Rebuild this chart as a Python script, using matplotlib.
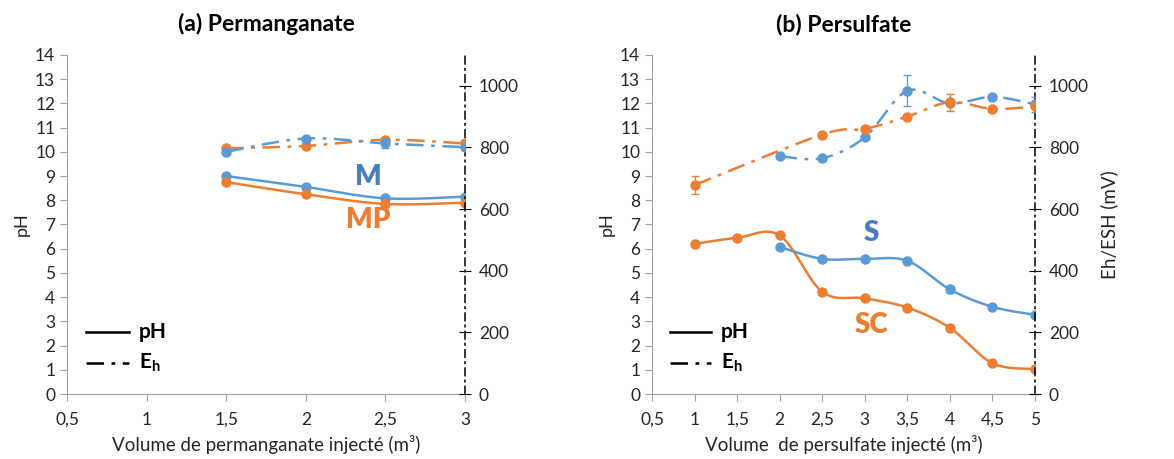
import numpy as np
import matplotlib.pyplot as plt

plt.rcParams['font.family'] = ['Lato', 'DejaVu Sans']
plt.rcParams['mathtext.fontset'] = 'custom'
plt.rcParams['mathtext.bf'] = 'Lato:bold'

BLUE = '#5B9BD5'
ORANGE = '#ED7D31'
SPINE = '#A0A0A0'
TXT = '#262626'

# (a) Permanganate
x_perm = [1.5, 2, 2.5, 3]
ph_M = [9.0, 8.55, 8.08, 8.15]
ph_MP = [8.75, 8.25, 7.85, 7.9]
eh_M = [786, 829, 813, 801]
eh_M_err = [0, 0, 15, 0]
eh_MP = [797, 805, 825, 813]

# (b) Persulfate
x_S = [2, 2.5, 3, 3.5, 4, 4.5, 5]
ph_S = [6.07, 5.58, 5.58, 5.5, 4.32, 3.6, 3.27]
ph_S_err = [0, 0, 0, 0, 0.15, 0, 0]
eh_S = [772, 765, 833, 984, 943, 964, 940]
eh_S_err = [0, 8, 0, 50, 0, 0, 25]

x_SC = [1, 1.5, 2, 2.5, 3, 3.5, 4, 4.5, 5]
ph_SC = [6.2, 6.45, 6.55, 4.22, 3.95, 3.57, 2.73, 1.27, 1.03]
x_SC_eh = [1, 2.5, 3, 3.5, 4, 4.5, 5]
eh_SC = [678, 842, 860, 900, 947, 925, 933]
eh_SC_err = [28, 0, 8, 0, 28, 0, 0]

dashdot = (0, (7, 3, 1.5, 3))


def smooth(x, y, n=30):
    # courbe lissée type Excel (Catmull-Rom)
    p = np.column_stack([x, y]).astype(float)
    out = [p[0]]
    for i in range(len(p) - 1):
        p0 = p[i - 1] if i > 0 else p[i]
        p1, p2 = p[i], p[i + 1]
        p3 = p[i + 2] if i + 2 < len(p) else p[i + 1]
        c1 = p1 + (p2 - p0) / 6
        c2 = p2 - (p3 - p1) / 6
        t = np.linspace(0, 1, n)[1:, None]
        seg = (1 - t) ** 3 * p1 + 3 * (1 - t) ** 2 * t * c1 + 3 * (1 - t) * t ** 2 * c2 + t ** 3 * p2
        out.extend(seg)
    out = np.array(out)
    return out[:, 0], out[:, 1]


def draw(ax, x, y, color, err=None, ls='-'):
    sx, sy = smooth(x, y)
    ax.plot(sx, sy, color=color, lw=1.8, linestyle=ls, zorder=3)
    ax.plot(x, y, 'o', color=color, ms=6.5, zorder=4)
    if err is not None:
        ax.errorbar(x, y, yerr=err, fmt='none', ecolor=color, elinewidth=0.9, capsize=3, zorder=4)


def setup(ax, ax2, xmax, xlabel, title, right_label):
    ax.set_xlim(0.5, xmax)
    ax.set_ylim(0, 14)
    ax.set_yticks(range(0, 15))
    xt = np.arange(0.5, xmax + 0.01, 0.5)
    ax.set_xticks(xt)
    ax.set_xticklabels([('%g' % v).replace('.', ',') for v in xt])
    ax.tick_params(axis='both', colors=SPINE, labelcolor=TXT, labelsize=12.5, length=5)
    ax.tick_params(axis='x', pad=8)
    for s in ['top', 'right']:
        ax.spines[s].set_visible(False)
    for s in ['left', 'bottom']:
        ax.spines[s].set_color(SPINE)
    ax.set_ylabel('pH', fontsize=13, color=TXT, labelpad=4)
    ax.set_xlabel(xlabel, fontsize=13.5, color=TXT, labelpad=5)
    ax.set_title(title, fontsize=16.5, fontweight='bold', color='black', pad=17)

    ax2.set_ylim(0, 1100)
    ax2.set_yticks(range(0, 1001, 200))
    ax2.tick_params(axis='y', direction='inout', length=8, colors='black', labelcolor=TXT, labelsize=12.5, pad=6)
    for s in ['top', 'left', 'bottom']:
        ax2.spines[s].set_visible(False)
    ax2.spines['right'].set_linestyle((0, (5, 3, 1, 3)))
    ax2.spines['right'].set_color('black')
    ax2.spines['right'].set_linewidth(1.1)
    if right_label:
        ax2.set_ylabel(right_label, fontsize=13.5, color=TXT, labelpad=8)

    # légende manuelle
    ax.plot([0.047, 0.155], [0.183, 0.183], transform=ax.transAxes, color='black', lw=1.8)
    ax.plot([0.047, 0.155], [0.091, 0.091], transform=ax.transAxes, color='black', lw=1.8, linestyle=dashdot)
    ax.text(0.18, 0.183, 'pH', transform=ax.transAxes, fontsize=15, fontweight='bold', va='center')
    ax.text(0.18, 0.091, r'E$_\mathbf{h}$', transform=ax.transAxes, fontsize=15, fontweight='bold', va='center')


fig = plt.figure(figsize=(11.74, 4.59), dpi=100)

ax_a = fig.add_axes([0.0571, 0.1416, 0.339, 0.7386])
ax_a2 = ax_a.twinx()
draw(ax_a, x_perm, ph_M, BLUE)
draw(ax_a, x_perm, ph_MP, ORANGE)
draw(ax_a2, x_perm, eh_MP, ORANGE, ls=dashdot)
draw(ax_a2, x_perm, eh_M, BLUE, eh_M_err, ls=dashdot)
ax_a.text(2.39, 8.98, 'M', color='#4A7EBB', fontsize=20, fontweight='heavy', ha='center', va='center')
ax_a.text(2.39, 7.19, 'MP', color=ORANGE, fontsize=20, fontweight='heavy', ha='center', va='center')
setup(ax_a, ax_a2, 3, 'Volume de permanganate injecté (m³)', '(a) Permanganate', None)

ax_b = fig.add_axes([0.5554, 0.1416, 0.3262, 0.7386])
ax_b2 = ax_b.twinx()
draw(ax_b, x_SC, ph_SC, ORANGE)
draw(ax_b, x_S, ph_S, BLUE, ph_S_err)
draw(ax_b2, x_S, eh_S, BLUE, eh_S_err, ls=dashdot)
draw(ax_b2, x_SC_eh, eh_SC, ORANGE, eh_SC_err, ls=dashdot)
ax_b.text(3.08, 6.64, 'S', color='#4A7EBB', fontsize=20, fontweight='heavy', ha='center', va='center')
ax_b.text(3.08, 2.85, 'SC', color=ORANGE, fontsize=20, fontweight='heavy', ha='center', va='center')
setup(ax_b, ax_b2, 5, 'Volume  de persulfate injecté (m³)', '(b) Persulfate', 'Eh/ESH (mV)')

fig.savefig('out.png', dpi=100)
